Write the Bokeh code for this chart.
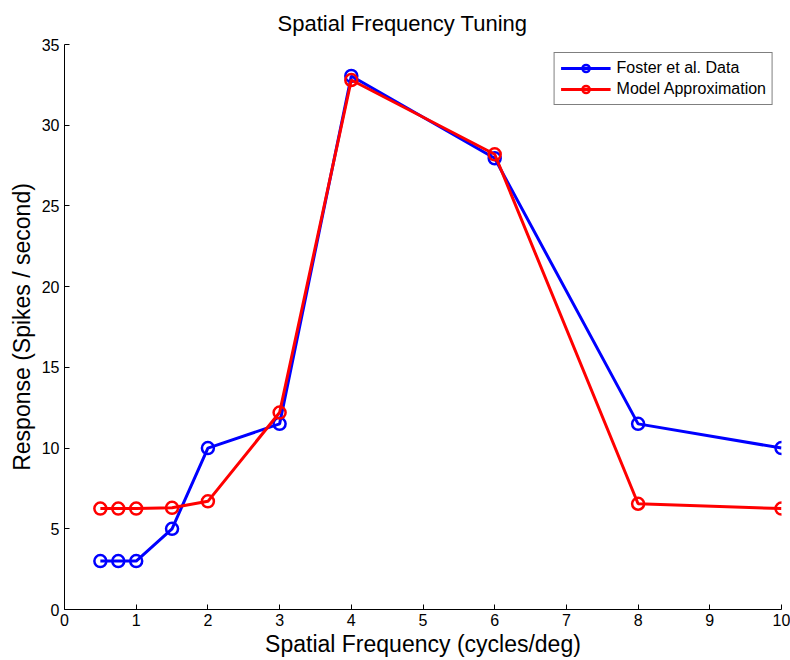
from bokeh.plotting import figure
from bokeh.models import Legend, LegendItem, FixedTicker
from bokeh.embed import file_html
from bokeh.resources import INLINE

freq = [0.5, 0.75, 1, 1.5, 2, 3, 4, 6, 8, 10]
foster = [3.0, 3.0, 3.0, 5.0, 10.0, 11.5, 33.05, 27.95, 11.5, 10.0]
model = [6.25, 6.25, 6.25, 6.3, 6.7, 12.2, 32.8, 28.2, 6.55, 6.25]

x_ticks = [0, 1, 2, 3, 4, 5, 6, 7, 8, 9, 10]
y_ticks = [0, 5, 10, 15, 20, 25, 30, 35]

FONT = "Liberation Sans"

p = figure(width=790, height=660, output_backend="svg", toolbar_location=None,
           x_range=(0, 10), y_range=(0, 35),
           title="Spatial Frequency Tuning",
           min_border_left=64, min_border_right=9, min_border_top=43, min_border_bottom=51)

p.title.align = "left"
p.title.offset = 213
p.title.standoff = 17
p.title.text_font = FONT
p.title.text_font_size = "22px"
p.title.text_font_style = "normal"
p.title.text_color = "black"

p.outline_line_color = None
p.xgrid.visible = False
p.ygrid.visible = False

for ax in (p.xaxis[0], p.yaxis[0]):
    ax.major_tick_in = 5
    ax.major_tick_out = 0
    ax.minor_tick_line_color = None
    ax.axis_line_color = "black"
    ax.major_tick_line_color = "black"
    ax.major_label_text_font = FONT
    ax.major_label_text_font_size = "16px"
    ax.major_label_text_color = "black"
    ax.axis_label_text_font = FONT
    ax.axis_label_text_font_size = "23px"
    ax.axis_label_text_font_style = "normal"
    ax.axis_label_text_color = "black"

p.xaxis.ticker = FixedTicker(ticks=x_ticks)
p.yaxis.ticker = FixedTicker(ticks=y_ticks)
p.xaxis.axis_label = "Spatial Frequency (cycles/deg)"
p.yaxis.axis_label = "Response (Spikes / second)"
p.xaxis.major_label_standoff = 4
p.yaxis.major_label_standoff = 5
p.xaxis.axis_label_standoff = 2
p.yaxis.axis_label_standoff = 4

l1 = p.line(freq, foster, line_color="#0000ff", line_width=3)
s1 = p.scatter(freq, foster, marker="circle", size=12, fill_color=None,
               line_color="#0000ff", line_width=2.5)
l2 = p.line(freq, model, line_color="#ff0000", line_width=3)
s2 = p.scatter(freq, model, marker="circle", size=12, fill_color=None,
               line_color="#ff0000", line_width=2.5)

legend = Legend(items=[
    LegendItem(label="Foster et al. Data", renderers=[l1, s1]),
    LegendItem(label="Model Approximation", renderers=[l2, s2]),
], location="top_right")
legend.margin = 8
legend.border_line_color = "black"
legend.border_line_width = 1
legend.label_text_font = FONT
legend.label_text_font_size = "16px"
legend.label_text_color = "black"
legend.glyph_width = 50
legend.glyph_height = 18
legend.spacing = 3
legend.padding = 6
legend.label_standoff = 6
legend.background_fill_alpha = 1
p.add_layout(legend, "center")

open("out.html", "w").write(file_html(p, INLINE))
